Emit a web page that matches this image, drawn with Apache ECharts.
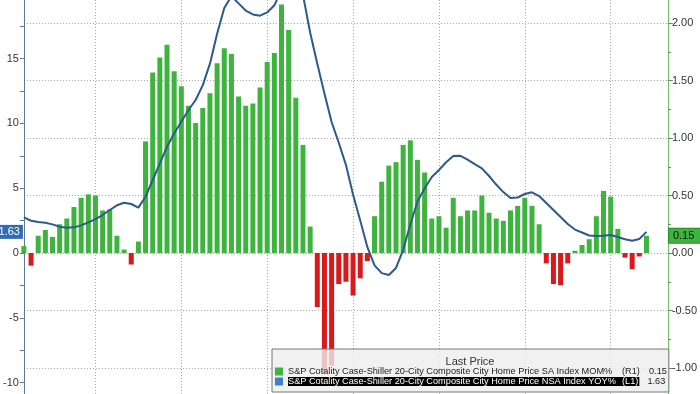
<!DOCTYPE html>
<html>
<head>
<meta charset="utf-8">
<script src="https://cdn.jsdelivr.net/npm/echarts@6/dist/echarts.min.js"></script>
<style>
  html, body { margin: 0; padding: 0; background: #fff; }
  #main { width: 700px; height: 394px; }
</style>
</head>
<body>
<div id="main"></div>
<script>
// monthly categories, Mar 2019 onward, plus 3 empty slots on the right
const startYear = 2019;
const startMonth = 3;
const categories = Array.from({ length: 91 }, (_, i) => {
  const m = startMonth - 1 + i;
  return startYear + Math.floor(m / 12) + "-" + String((m % 12) + 1).padStart(2, "0");
});

// MoM % SA (right axis, bars)
const mom = [
  0.06, -0.11, 0.15, 0.20, 0.14, 0.25, 0.30, 0.40, 0.48, 0.51,
  0.50, 0.37, 0.38, 0.15, 0.03, -0.10, 0.10, 0.97, 1.57, 1.70,
  1.81, 1.58, 1.45, 1.28, 1.13, 1.26, 1.39, 1.65, 1.78, 1.73,
  1.36, 1.28, 1.30, 1.44, 1.66, 1.74, 2.16, 1.94, 1.35, 0.94,
  0.23, -0.47, -1.04, -0.98, -0.27, -0.25, -0.37, -0.22, -0.07, 0.32,
  0.62, 0.76, 0.79, 0.94, 0.98, 0.81, 0.70, 0.30, 0.32, 0.22,
  0.48, 0.32, 0.37, 0.37, 0.50, 0.35, 0.30, 0.28, 0.37, 0.41,
  0.48, 0.41, 0.25, -0.09, -0.27, -0.28, -0.09, 0.02, 0.07, 0.12,
  0.32, 0.54, 0.49, 0.21, -0.04, -0.14, -0.03, 0.15
];

// YoY % NSA (left axis, line)
const yoy = [
  2.75, 2.49, 2.39, 2.34, 2.21, 2.03, 1.95, 1.98, 2.13, 2.36,
  2.62, 2.93, 3.32, 3.68, 3.88, 3.78, 3.50, 4.34, 5.63, 6.92,
  8.20, 9.23, 10.12, 11.03, 11.80, 12.95, 14.60, 16.90, 18.90, 19.80,
  19.25, 18.70, 18.40, 18.30, 18.55, 19.10, 20.30, 21.00, 20.80, 19.90,
  17.00, 14.60, 12.30, 10.10, 8.50, 6.80, 4.50, 2.50, 0.45, -0.95,
  -1.55, -1.70, -1.15, 0.25, 2.20, 3.97, 5.00, 5.86, 6.40, 7.00,
  7.48, 7.50, 7.20, 6.86, 6.53, 5.94, 5.28, 4.70, 4.24, 4.28,
  4.55, 4.68, 4.39, 3.86, 3.32, 2.78, 2.24, 1.81, 1.58, 1.35,
  1.31, 1.33, 1.39, 1.23, 1.06, 0.95, 1.08, 1.63
];

const leftTicks = [-10, -7.5, -5, -2.5, 0, 2.5, 5, 7.5, 10, 12.5, 15, 17.5];
const leftLabels = [-10, -5, 0, 5, 10, 15];
const rightLabels = [-1, -0.5, 0, 0.5, 1, 1.5, 2];
const rightMinor = [-1, -0.75, -0.5, -0.25, 0, 0.25, 0.5, 0.75, 1, 1.25, 1.5, 1.75, 2];

const momName = "S&P Cotality Case-Shiller 20-City Composite City Home Price SA Index MOM%";
const yoyName = "S&P Cotality Case-Shiller 20-City Composite City Home Price NSA Index YOY%";
const lastMom = mom[mom.length - 1];
const lastYoy = yoy[yoy.length - 1];

const green = "#3db43d";
const red = "#d9191c";
const lineBlue = "#2b5a8b";
const font = "Liberation Sans";

const chart = echarts.init(document.getElementById("main"));

// invisible horizontal line used only to hang a value tag on an axis
function axisTag(value, side, bg, fg, border) {
  return {
    silent: true,
    symbol: "none",
    lineStyle: { width: 0, color: "rgba(0,0,0,0)" },
    data: [{ yAxis: value }],
    label: {
      show: true,
      position: side,
      distance: 1,
      formatter: value.toFixed(2),
      color: fg,
      fontSize: 11,
      fontFamily: font,
      backgroundColor: bg,
      borderColor: border,
      borderWidth: border ? 1 : 0,
      padding: side === "end" ? [2, 8, 1, 4] : [2, 3, 1, 3]
    }
  };
}

const option = {
  animation: false,
  backgroundColor: "#fff",
  textStyle: { fontFamily: font },
  grid: { left: 22, right: 31, top: 0, bottom: 0, containLabel: false },
  title: {
    text: "Last Price",
    left: 470,
    top: 356,
    textAlign: "center",
    padding: 0,
    textStyle: { fontSize: 11, fontWeight: "normal", color: "#333", fontFamily: font }
  },
  legend: {
    left: 272,
    top: 349,
    orient: "vertical",
    padding: [18, 2, 6, 3],
    itemGap: 1,
    itemWidth: 8,
    itemHeight: 8,
    icon: "rect",
    backgroundColor: "rgba(238,238,238,0.8)",
    borderColor: "#777",
    borderWidth: 1,
    selectedMode: false,
    data: [
      { name: momName, itemStyle: { color: green } },
      { name: yoyName, itemStyle: { color: "#3f80c6" } }
    ],
    formatter: function (name) {
      if (name === momName) {
        return "{n|" + name + "}{t|(R1)}{v|" + lastMom.toFixed(2) + "}";
      }
      return "{h|" + name + "}{ht|(L1)}{v|" + lastYoy.toFixed(2) + "}";
    },
    textStyle: {
      fontFamily: font,
      rich: {
        n: { width: 331, fontSize: 9.2, color: "#222", fontFamily: font },
        t: { fontSize: 9.2, color: "#222", fontFamily: font, padding: [0, 1, 0, 3] },
        h: { width: 331, fontSize: 9.2, color: "#fff", backgroundColor: "#000", fontFamily: font },
        ht: { fontSize: 9.2, color: "#fff", backgroundColor: "#000", fontFamily: font, padding: [0, 1, 0, 3] },
        v: { width: 26, align: "right", fontSize: 9.2, color: "#222", fontFamily: font }
      }
    }
  },
  xAxis: {
    type: "category",
    data: categories,
    boundaryGap: false,
    axisLine: { show: false },
    axisTick: { show: false },
    axisLabel: { show: false },
    splitLine: {
      show: true,
      interval: function (index) { return index % 12 === 10; },
      lineStyle: { color: "#a8a8a8", type: [1, 2], width: 1 }
    }
  },
  yAxis: [
    {
      type: "value",
      position: "left",
      min: -10.87,
      max: 19.51,
      axisLine: { show: true, lineStyle: { color: "#5f7590", width: 1 } },
      axisTick: { show: true, length: 4, customValues: leftTicks, lineStyle: { color: "#5f7590" } },
      axisLabel: { customValues: leftLabels, color: "#333", fontSize: 11, margin: 5 },
      splitLine: { show: false }
    },
    {
      type: "value",
      position: "right",
      min: -1.226,
      max: 2.2,
      axisLine: { show: true, lineStyle: { color: "#6fbf6f", width: 1 } },
      axisTick: { show: true, length: 5, customValues: rightLabels, lineStyle: { color: "#6a8a6a" } },
      axisLabel: {
        customValues: rightLabels,
        color: "#333",
        fontSize: 11,
        margin: 4,
        formatter: function (v) { return v.toFixed(2); }
      },
      splitLine: { show: true, lineStyle: { color: "#a0a0a0", type: [1, 2], width: 1 } }
    },
    {
      type: "value",
      position: "right",
      min: -1.226,
      max: 2.2,
      axisLine: { show: false },
      axisTick: { show: true, length: 3, customValues: rightMinor, lineStyle: { color: "#6a8a6a" } },
      axisLabel: { show: false },
      splitLine: { show: false }
    }
  ],
  series: [
    {
      name: momName,
      type: "bar",
      yAxisIndex: 1,
      data: mom,
      barWidth: 5,
      itemStyle: {
        color: function (p) { return p.value >= 0 ? green : red; }
      },
      markLine: axisTag(lastMom, "end", green, "#111", "#2a8a2a")
    },
    {
      name: yoyName,
      type: "line",
      yAxisIndex: 0,
      data: yoy,
      showSymbol: false,
      lineStyle: { color: lineBlue, width: 2 },
      itemStyle: { color: lineBlue },
      markLine: axisTag(lastYoy, "start", "#2f6db3", "#fff", null)
    }
  ]
};

chart.setOption(option);
</script>
</body>
</html>
